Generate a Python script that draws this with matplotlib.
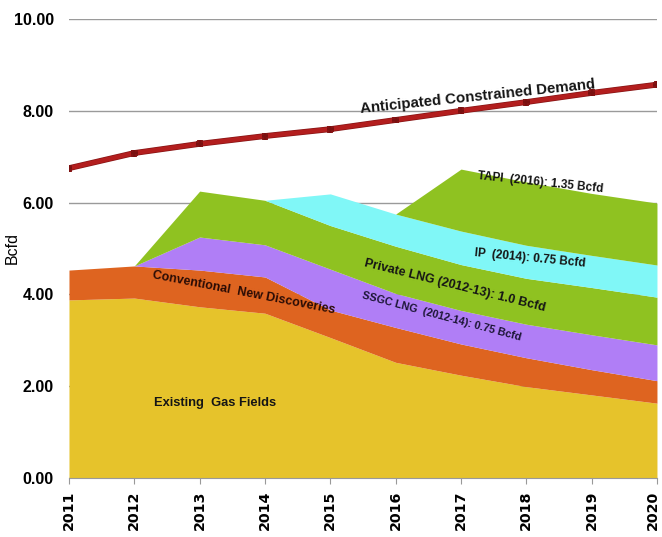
import matplotlib
matplotlib.use("Agg")
import matplotlib.pyplot as plt
import matplotlib.patheffects as pe
import matplotlib.transforms as mtransforms
import numpy as np

years = [2011, 2012, 2013, 2014, 2015, 2016, 2017, 2018, 2019, 2020]

# Supply components (Bcfd), stacked bottom to top
existing_fields = [3.88, 3.92, 3.73, 3.59, 3.06, 2.52, 2.24, 1.99, 1.81, 1.63]
conventional_new = [0.65, 0.70, 0.80, 0.79, 0.60, 0.76, 0.68, 0.63, 0.55, 0.49]
ssgc_lng = [0.00, 0.00, 0.72, 0.70, 0.89, 0.74, 0.73, 0.73, 0.76, 0.78]
private_lng = [0.00, 0.00, 1.00, 0.97, 0.95, 1.03, 1.00, 1.00, 1.03, 1.04]
ip_pipeline = [0.00, 0.00, 0.00, 0.00, 0.69, 0.70, 0.73, 0.72, 0.70, 0.70]
tapi_pipeline = [0.00, 0.00, 0.00, 0.00, 0.00, 0.00, 1.35, 1.38, 1.35, 1.35]

demand = [6.75, 7.08, 7.28, 7.45, 7.60, 7.80, 8.00, 8.19, 8.39, 8.57]

yticks = [0, 2, 4, 6, 8, 10]
ytick_labels = ["0.00", "2.00", "4.00", "6.00", "8.00", "10.00"]

layers = [existing_fields, conventional_new, ssgc_lng, private_lng, ip_pipeline, tapi_pipeline]
colors = ["#E6C32B", "#DE6420", "#B07EF6", "#8FC221", "#80F7F7", "#8FC221"]

sans = ["Liberation Sans", "DejaVu Sans"]

fig = plt.figure(figsize=(6.62, 5.37), dpi=100)
ax = fig.add_axes([0.1042, 0.1099, 0.8882, 0.8547])

# Horizontal gridlines behind the areas
for t in yticks:
    ax.axhline(t, color="#9a9a9a", lw=1.0, zorder=0)

x = np.array(years, dtype=float)
base = np.zeros(len(years))
for vals, c in zip(layers, colors):
    top = base + np.array(vals)
    ax.fill_between(x, base, top, color=c, lw=0, zorder=2)
    base = top

ax.plot(x, demand, color="#B31E1E", lw=3.2, marker="+", ms=5, mew=1.5,
        mec="#7a1010", zorder=4,
        path_effects=[pe.Stroke(linewidth=4.2, foreground="#861414"), pe.Normal()])

ax.set_xlim(2011, 2020)
ax.set_ylim(0, 10)
ax.set_xticks(years)
ax.set_xticklabels([str(y) for y in years], rotation=90, fontsize=10.3,
                   fontweight="bold", family=["DejaVu Sans"])
ax.set_yticks(yticks)
ax.set_yticklabels(ytick_labels, fontsize=11.5, fontweight="bold", family=sans)
ax.tick_params(axis="y", length=0, pad=11)
ax.tick_params(axis="x", length=4, color="#999999", pad=5)
for s in ["left", "right", "top"]:
    ax.spines[s].set_visible(False)
ax.spines["bottom"].set_color("#999999")
ax.spines["bottom"].set_zorder(3)

# keep the last year label inside the canvas
last = ax.get_xticklabels()[-1]
last.set_transform(last.get_transform() +
                   mtransforms.ScaledTranslation(-4 / 100, 0, fig.dpi_scale_trans))

ax.set_ylabel("Bcfd", fontsize=11.5, family=sans)
ax.yaxis.set_label_coords(-0.083, 0.5)

txt = dict(fontweight="bold", color="#151515", ha="center",
           va="center", zorder=5, rotation_mode="anchor", family=sans)
ax.text(2017.26, 8.30, "Anticipated Constrained Demand", fontsize=10.8, rotation=6, **txt)
ax.text(2018.21, 6.43, "TAPI  (2016): 1.35 Bcfd", fontsize=8.5, rotation=-6, **txt)
ax.text(2018.06, 4.79, "IP  (2014): 0.75 Bcfd", fontsize=8.5, rotation=-5.5, **txt)
ax.text(2016.91, 4.20, "Private LNG (2012-13): 1.0 Bcfd", fontsize=9, rotation=-14, **txt)
ax.text(2016.70, 3.51, "SSGC LNG  (2012-14): 0.75 Bcfd", fontsize=7.8, rotation=-15,
        **{**txt, "color": "#1b1535"})
ax.text(2013.68, 4.03, "Conventional  New Discoveries", fontsize=9, rotation=-11,
        **{**txt, "color": "#2a0c05"})
ax.text(2013.23, 1.63, "Existing  Gas Fields", fontsize=9.3, rotation=0, **txt)

fig.savefig("out.png", dpi=100)
